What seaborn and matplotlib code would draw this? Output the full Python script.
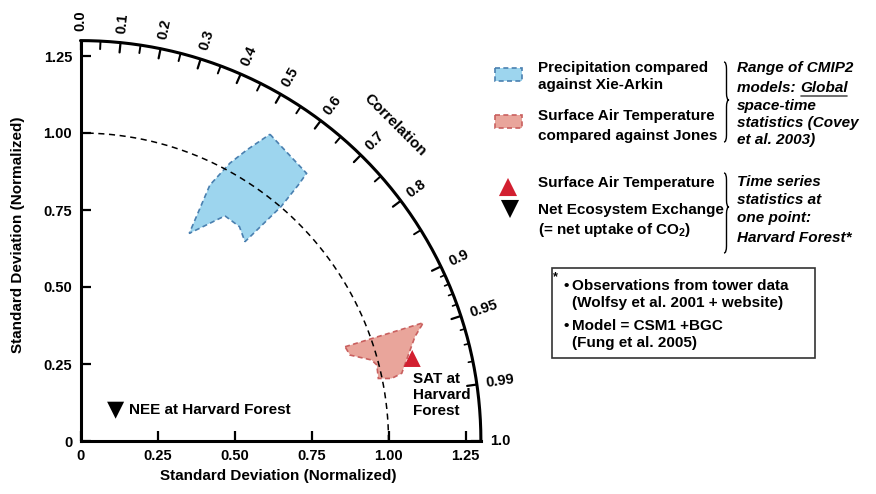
import numpy as np
import pandas as pd
import matplotlib
matplotlib.use("Agg")
import matplotlib.pyplot as plt
import seaborn as sns
from matplotlib.path import Path
from matplotlib.patches import PathPatch, Rectangle

sns.set_theme(style="ticks")
plt.rcParams['font.family'] = ['Liberation Sans', 'DejaVu Sans']
plt.rcParams['font.weight'] = 'bold'
plt.rcParams['text.color'] = 'black'
plt.rcParams['axes.labelcolor'] = 'black'
plt.rcParams['xtick.color'] = 'black'
plt.rcParams['ytick.color'] = 'black'
plt.rcParams['mathtext.fontset'] = 'custom'
plt.rcParams['mathtext.rm'] = 'Liberation Sans:bold'
plt.rcParams['mathtext.bf'] = 'Liberation Sans:bold'
plt.rcParams['mathtext.it'] = 'Liberation Sans:italic:bold'

# ---------------- data ----------------
std_ticks = [0, 0.25, 0.5, 0.75, 1.0, 1.25]
std_tick_labels = ["0", "0.25", "0.50", "0.75", "1.00", "1.25"]
corr_label_values = [0.0, 0.1, 0.2, 0.3, 0.4, 0.5, 0.6, 0.7, 0.8, 0.9, 0.95, 0.99, 1.0]
corr_labels = ["0.0", "0.1", "0.2", "0.3", "0.4", "0.5", "0.6", "0.7", "0.8", "0.9", "0.95", "0.99", "1.0"]
corr_mid_ticks = [0.05, 0.15, 0.25, 0.35, 0.45, 0.55, 0.65, 0.75, 0.85]
corr_fine_ticks = [0.91, 0.92, 0.93, 0.94, 0.96, 0.97, 0.98]

# CMIP2 ranges (x = std*corr, y = std*sqrt(1-corr^2), normalized)
precip_x = [0.615, 0.734, 0.707, 0.651, 0.534, 0.516, 0.469, 0.353, 0.420, 0.485, 0.540]
precip_y = [0.996, 0.869, 0.831, 0.761, 0.647, 0.696, 0.731, 0.674, 0.831, 0.902, 0.945]
sat_x = [0.859, 1.113, 1.086, 1.043, 1.010, 0.967, 0.962, 0.945, 0.875]
sat_y = [0.306, 0.384, 0.339, 0.220, 0.203, 0.203, 0.247, 0.263, 0.279]

point_names = ["SAT", "NEE"]
point_x = [1.077, 0.114]
point_y = [0.268, 0.100]

R_MAX = 1.3
BLUE_FILL, BLUE_EDGE = "#9dd5ee", "#4a80b0"
RED_FILL, RED_EDGE = "#e9a59b", "#c9605f"
RED_MARK = "#d21f30"

W, H = 876, 494
fig = plt.figure(figsize=(W / 100, H / 100), dpi=100)
PX = 308.0
X0, Y0 = 80.5, 441.0
LIM = 1.36
ax = fig.add_axes([X0 / W, (H - Y0) / H, LIM * PX / W, LIM * PX / H])
ax.set_xlim(0, LIM)
ax.set_ylim(0, LIM)
ax.patch.set_visible(False)

for s in ["top", "right"]:
    ax.spines[s].set_visible(False)
for s in ["left", "bottom"]:
    ax.spines[s].set_bounds(0, R_MAX)
    ax.spines[s].set_linewidth(2.2)
    ax.spines[s].set_color("black")

ax.set_xticks(std_ticks)
ax.set_xticklabels(std_tick_labels)
ax.set_yticks(std_ticks)
ax.set_yticklabels(std_tick_labels)
ax.tick_params(direction="in", length=7, width=1.6, labelsize=10.5, pad=6,
               bottom=True, left=True, colors="black")
for lab in ax.get_xticklabels() + ax.get_yticklabels():
    lab.set_fontweight("bold")

# outer arc
th = np.linspace(0, np.pi / 2, 300)
ax.plot(R_MAX * np.cos(th), R_MAX * np.sin(th), color="black", lw=2.2, zorder=5, clip_on=False)
# reference arc (std = 1)
ax.plot(np.cos(th), np.sin(th), color="black", lw=1.1, ls=(0, (4, 3)), zorder=4)


def arc_tick(c, length, lw):
    t = np.arccos(c)
    r = np.array([R_MAX - length, R_MAX])
    ax.plot(r * np.cos(t), r * np.sin(t), color="black", lw=lw, zorder=5, clip_on=False)


for c in corr_label_values:
    arc_tick(c, 0.032, 1.6)
for c in corr_mid_ticks:
    arc_tick(c, 0.026, 1.4)
for c in corr_fine_ticks:
    arc_tick(c, 0.015, 1.2)

for c, lab in zip(corr_label_values, corr_labels):
    t = np.arccos(c)
    r = R_MAX + 0.03
    ax.text(r * np.cos(t), r * np.sin(t), lab, rotation=np.degrees(t), rotation_mode="anchor",
            ha="left", va="center", fontsize=10.5, fontweight="bold", clip_on=False)

ax.text(1.021, 1.026, "Correlation", rotation=-45, rotation_mode="anchor", ha="center",
        va="center", fontsize=11, fontweight="bold")

# polygons
ax.fill(precip_x, precip_y, facecolor=BLUE_FILL, edgecolor=BLUE_EDGE, lw=1.2,
        ls=(0, (3, 2)), zorder=2)
ax.fill(sat_x, sat_y, facecolor=RED_FILL, edgecolor=RED_EDGE, lw=1.2,
        ls=(0, (3, 2)), zorder=2)

pts = pd.DataFrame({"name": point_names, "x": point_x, "y": point_y})
sns.scatterplot(data=pts, x="x", y="y", hue="name", style="name",
                markers={"SAT": "^", "NEE": "v"},
                palette={"SAT": RED_MARK, "NEE": "black"},
                s=150, edgecolor="none", legend=False, ax=ax, zorder=6)
ax.set_xlabel("")
ax.set_ylabel("")

ax.text(1.08, 0.149, "SAT at\nHarvard\nForest", ha="left", va="center", fontsize=11,
        fontweight="bold", linespacing=1.15)
ax.text(0.158, 0.100, "NEE at Harvard Forest", ha="left", va="center", fontsize=11,
        fontweight="bold")

# ---------------- overlay in pixel coords ----------------
ov = fig.add_axes([0, 0, 1, 1])
ov.set_xlim(0, W)
ov.set_ylim(H, 0)
ov.axis("off")
ov.patch.set_visible(False)

ov.text(278, 476, "Standard Deviation (Normalized)", ha="center", va="center",
        fontsize=11, fontweight="bold")
ov.text(18, 235, "Standard Deviation (Normalized)", ha="center", va="center",
        rotation=90, fontsize=11, fontweight="bold")

FS = 11
def t(x, y, s, **kw):
    kw.setdefault("fontsize", FS)
    kw.setdefault("fontweight", "bold")
    return ov.text(x, y, s, ha="left", va="center", **kw)

ov.add_patch(Rectangle((495, 68), 27, 13, facecolor=BLUE_FILL, edgecolor=BLUE_EDGE,
                       lw=1.2, ls=(0, (3, 2))))
ov.add_patch(Rectangle((495, 115), 27, 13, facecolor=RED_FILL, edgecolor=RED_EDGE,
                       lw=1.2, ls=(0, (3, 2))))
t(538, 68, "Precipitation compared")
t(538, 85, "against Xie-Arkin")
t(538, 116, "Surface Air Temperature")
t(538, 136, "compared against Jones")

ov.scatter([508], [187], marker="^", s=170, color=RED_MARK, edgecolor="none")
ov.scatter([510], [209], marker="v", s=170, color="black", edgecolor="none")
t(538, 183, "Surface Air Temperature")
t(538, 210, "Net Ecosystem Exchange")
t(538, 230, "(= net uptake of CO$_\\mathregular{2}$)")

ITX = 737
t(ITX, 68, "Range of CMIP2", style="italic")
tm = t(ITX, 88, "models: ", style="italic")
t(ITX, 106, "space-time", style="italic")
t(ITX, 123, "statistics (Covey", style="italic")
t(ITX, 140, "et al. 2003)", style="italic")
t(ITX, 182, "Time series", style="italic")
t(ITX, 200, "statistics at", style="italic")
t(ITX, 218, "one point:", style="italic")
t(ITX, 238, "Harvard Forest*", style="italic")

renderer = fig.canvas.get_renderer()
bb = tm.get_window_extent(renderer)
gx = bb.x1
tg = ov.text(gx, 88, "Global", ha="left", va="center", fontsize=FS, fontweight="bold",
             style="italic")
bbg = tg.get_window_extent(renderer)
ov.plot([bbg.x0 + 1, bbg.x1 - 1], [96.5, 96.5], color="#555555", lw=1.2)


def brace(x0, y0, y1, ym, w=5.0, r=7.0):
    a = w * 0.5
    verts = [(x0, y0), (x0 + a, y0), (x0 + a, y0 + r),
             (x0 + a, ym - r),
             (x0 + a, ym), (x0 + w, ym),
             (x0 + a, ym), (x0 + a, ym + r),
             (x0 + a, y1 - r),
             (x0 + a, y1), (x0, y1)]
    codes = [Path.MOVETO, Path.CURVE3, Path.CURVE3, Path.LINETO,
             Path.CURVE3, Path.CURVE3, Path.CURVE3, Path.CURVE3,
             Path.LINETO, Path.CURVE3, Path.CURVE3]
    ov.add_patch(PathPatch(Path(verts, codes), facecolor="none", edgecolor="black", lw=1.0))


brace(724, 62, 142, 100)
brace(724, 173, 253, 207)

ov.add_patch(Rectangle((552, 268), 263, 90, facecolor="white", edgecolor="#333333", lw=1.2))
t(553, 277, "*", fontsize=9)
t(563, 286, "•")
t(572, 286, "Observations from tower data")
t(572, 303, "(Wolfsy et al. 2001 + website)")
t(563, 326, "•")
t(572, 326, "Model = CSM1 +BGC")
t(572, 343, "(Fung et al. 2005)")

fig.savefig("out.png", dpi=100, facecolor="white")
